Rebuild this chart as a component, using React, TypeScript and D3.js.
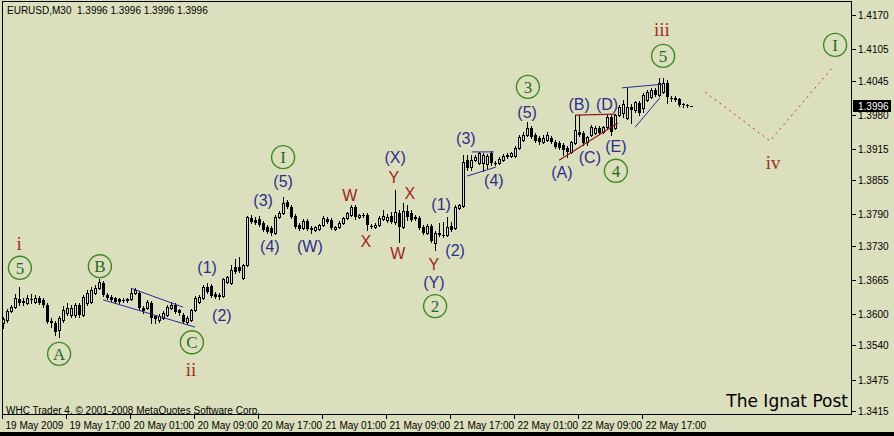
import { scaleLinear, line as d3line } from "d3";

const W = 894;
const H = 436;
const BG = "#dcdfbd";

// EURUSD M30 candles, 19 May 2009 09:00 → 22 May 2009 ~19:00
const open = [
  1.3583, 1.3588, 1.3606, 1.3613, 1.3628, 1.3625, 1.3621, 1.3628, 1.3623, 1.363,
  1.3627, 1.3617, 1.3587, 1.3583, 1.3569, 1.3588, 1.3602, 1.3598, 1.3598, 1.3617,
  1.3598, 1.3621, 1.3623, 1.364, 1.3649, 1.3659, 1.3636, 1.3632, 1.363, 1.3628,
  1.3627, 1.3627, 1.3628, 1.364, 1.364, 1.3611, 1.3611, 1.3621, 1.3596, 1.3588,
  1.3592, 1.3598, 1.3611, 1.3617, 1.3607, 1.3598, 1.3585, 1.3588, 1.3607, 1.3623,
  1.363, 1.3651, 1.3653, 1.3638, 1.3636, 1.3634, 1.3661, 1.3659, 1.3689, 1.3689,
  1.3668, 1.3693, 1.3783, 1.3779, 1.3781, 1.3773, 1.3766, 1.3764, 1.3754, 1.3785,
  1.3792, 1.3813, 1.3804, 1.3787, 1.377, 1.3764, 1.3777, 1.3764, 1.376, 1.3762,
  1.377, 1.3781, 1.3779, 1.3762, 1.3766, 1.3773, 1.3783, 1.3789, 1.3804, 1.3785,
  1.3789, 1.3789, 1.3768, 1.3766, 1.377, 1.3781, 1.3779, 1.3787, 1.3775, 1.3792,
  1.3766, 1.3796, 1.3792, 1.3785, 1.3783, 1.3766, 1.3754, 1.3768, 1.3735, 1.3754,
  1.375, 1.375, 1.3768, 1.3764, 1.3802, 1.3806, 1.3893, 1.388, 1.3893, 1.3888,
  1.3888, 1.3886, 1.3907, 1.3888, 1.3888, 1.3893, 1.3901, 1.3901, 1.3901, 1.3916,
  1.3932, 1.3941, 1.3955, 1.3941, 1.3935, 1.3928, 1.3932, 1.3935, 1.3928, 1.3926,
  1.3922, 1.3916, 1.3909, 1.3926, 1.3947, 1.3945, 1.3928, 1.3941, 1.3945, 1.3955,
  1.3947, 1.3956, 1.3975, 1.3955, 1.3979, 1.3983, 1.3974, 1.3995, 1.3989, 1.4002,
  1.3993, 1.4008, 1.4014, 1.4027, 1.4017, 1.4023, 1.404, 1.4012, 1.4012, 1.401,
  1.4, 1.3998, 1.3996,
];
const high = [
  1.3594, 1.3609, 1.3617, 1.3638, 1.3651, 1.363, 1.3636, 1.3638, 1.3636, 1.3634,
  1.363, 1.3621, 1.3592, 1.3587, 1.3596, 1.3615, 1.3621, 1.3617, 1.3621, 1.3621,
  1.3636, 1.3646, 1.3651, 1.3655, 1.3666, 1.3663, 1.364, 1.3636, 1.3632, 1.363,
  1.363, 1.363, 1.3649, 1.3649, 1.3644, 1.3615, 1.3627, 1.3625, 1.3598, 1.36,
  1.3606, 1.3617, 1.3623, 1.3621, 1.3609, 1.3602, 1.3596, 1.3609, 1.3634, 1.3636,
  1.3655, 1.3659, 1.3657, 1.3642, 1.364, 1.3668, 1.3672, 1.3693, 1.3705, 1.3709,
  1.3696, 1.3787, 1.3789, 1.3785, 1.3787, 1.3777, 1.377, 1.3768, 1.3789, 1.3796,
  1.3823, 1.3817, 1.3808, 1.379, 1.3773, 1.3781, 1.3781, 1.3768, 1.3768, 1.3771,
  1.3787, 1.3785, 1.3783, 1.3768, 1.3777, 1.3785, 1.3794, 1.3808, 1.3808, 1.379,
  1.3792, 1.3792, 1.3771, 1.3773, 1.3787, 1.3798, 1.379, 1.3794, 1.3836, 1.3798,
  1.3811, 1.3808, 1.3798, 1.3789, 1.3787, 1.377, 1.3771, 1.3771, 1.3758, 1.3773,
  1.3775, 1.3785, 1.3775, 1.3808, 1.3809, 1.3903, 1.3903, 1.3903, 1.3903, 1.3909,
  1.3907, 1.3905, 1.3911, 1.3891, 1.3899, 1.3905, 1.3907, 1.3909, 1.392, 1.3941,
  1.3947, 1.3966, 1.3958, 1.3945, 1.3939, 1.3941, 1.3947, 1.3939, 1.3932, 1.393,
  1.3926, 1.392, 1.393, 1.3979, 1.3979, 1.3949, 1.3939, 1.396, 1.3958, 1.3958,
  1.3958, 1.3979, 1.3979, 1.3981, 1.3998, 1.4008, 1.4031, 1.4, 1.4006, 1.4006,
  1.4021, 1.4027, 1.4031, 1.4031, 1.405, 1.405, 1.4046, 1.4016, 1.4016, 1.4012,
  1.4002, 1.4, 1.3996,
];
const low = [
  1.3573, 1.3585, 1.3604, 1.3611, 1.3617, 1.3617, 1.3619, 1.3621, 1.3621, 1.3619,
  1.3613, 1.3583, 1.3575, 1.356, 1.3556, 1.3585, 1.3598, 1.3594, 1.3594, 1.3594,
  1.3596, 1.3617, 1.3621, 1.3638, 1.3647, 1.3634, 1.3628, 1.3625, 1.3621, 1.3621,
  1.3623, 1.3623, 1.3627, 1.3638, 1.3609, 1.3602, 1.3609, 1.3583, 1.3583, 1.3585,
  1.359, 1.3596, 1.3609, 1.3602, 1.3598, 1.3583, 1.3581, 1.3587, 1.3606, 1.3621,
  1.3628, 1.364, 1.3632, 1.363, 1.3628, 1.3632, 1.3659, 1.3657, 1.3678, 1.368,
  1.3666, 1.3691, 1.3773, 1.3771, 1.3768, 1.3758, 1.3754, 1.375, 1.3752, 1.3783,
  1.379, 1.3802, 1.3783, 1.3764, 1.376, 1.3762, 1.376, 1.3754, 1.3758, 1.376,
  1.3768, 1.3773, 1.3762, 1.376, 1.3764, 1.3771, 1.3781, 1.3787, 1.3781, 1.3783,
  1.3785, 1.376, 1.3764, 1.3764, 1.3768, 1.3779, 1.3775, 1.3773, 1.3771, 1.3737,
  1.3764, 1.3779, 1.3777, 1.3779, 1.3762, 1.3752, 1.3752, 1.3737, 1.3722, 1.3749,
  1.3747, 1.3749, 1.3758, 1.3762, 1.38, 1.3804, 1.3874, 1.3874, 1.3891, 1.3886,
  1.3872, 1.3878, 1.3884, 1.3884, 1.3886, 1.3891, 1.3897, 1.3899, 1.3899, 1.3914,
  1.393, 1.3939, 1.3935, 1.3928, 1.3924, 1.3926, 1.393, 1.3926, 1.3916, 1.3914,
  1.3903, 1.3899, 1.3907, 1.3924, 1.3939, 1.3922, 1.3922, 1.3939, 1.3943, 1.3943,
  1.3945, 1.3955, 1.3941, 1.3953, 1.3977, 1.3975, 1.3972, 1.3964, 1.3985, 1.3979,
  1.3985, 1.4006, 1.4012, 1.4016, 1.4016, 1.4021, 1.4002, 1.4006, 1.4006, 1.3996,
  1.3995, 1.3995, 1.3996,
];
const close = [
  1.359, 1.3606, 1.3613, 1.363, 1.3621, 1.3621, 1.363, 1.3628, 1.363, 1.3621,
  1.3617, 1.3585, 1.3583, 1.3565, 1.3592, 1.3607, 1.3611, 1.3611, 1.3617, 1.3598,
  1.3632, 1.364, 1.3646, 1.3649, 1.3661, 1.3636, 1.363, 1.3627, 1.3623, 1.3623,
  1.3627, 1.3628, 1.364, 1.3646, 1.3611, 1.3606, 1.3623, 1.3592, 1.359, 1.3596,
  1.3602, 1.3613, 1.3617, 1.3604, 1.3602, 1.3585, 1.3592, 1.3607, 1.363, 1.3632,
  1.3651, 1.3642, 1.3634, 1.3632, 1.3632, 1.3666, 1.367, 1.3684, 1.368, 1.3682,
  1.3693, 1.3785, 1.3775, 1.3773, 1.377, 1.376, 1.3756, 1.3754, 1.3785, 1.3792,
  1.3811, 1.3804, 1.3785, 1.3766, 1.3762, 1.3777, 1.3762, 1.376, 1.3766, 1.377,
  1.3783, 1.3775, 1.3764, 1.3766, 1.3773, 1.3783, 1.3792, 1.3804, 1.3785, 1.3789,
  1.3787, 1.377, 1.3766, 1.377, 1.3783, 1.3787, 1.3785, 1.3775, 1.3794, 1.3766,
  1.3796, 1.3785, 1.3779, 1.3781, 1.3764, 1.3754, 1.3768, 1.3739, 1.3754, 1.375,
  1.3749, 1.3766, 1.376, 1.3804, 1.3808, 1.389, 1.3878, 1.3893, 1.3899, 1.3907,
  1.3903, 1.3901, 1.3888, 1.3888, 1.3895, 1.3901, 1.3903, 1.3907, 1.3916, 1.3937,
  1.3941, 1.3955, 1.3937, 1.393, 1.3928, 1.3935, 1.3941, 1.3928, 1.3918, 1.3916,
  1.3913, 1.3909, 1.3928, 1.3951, 1.3941, 1.3926, 1.3937, 1.3956, 1.3955, 1.3945,
  1.3956, 1.3975, 1.3947, 1.3979, 1.3995, 1.4, 1.3995, 1.3989, 1.4004, 1.3983,
  1.4017, 1.4023, 1.4027, 1.4017, 1.404, 1.404, 1.4014, 1.401, 1.4008, 1.3998,
  1.3998, 1.3998, 1.3996,
];

const priceTicks = [1.417, 1.4105, 1.4045, 1.398, 1.3915, 1.3855, 1.379, 1.373, 1.3665, 1.36, 1.354, 1.3475, 1.3415];
const timeLabels = [
  "19 May 2009", "19 May 17:00", "20 May 01:00", "20 May 09:00", "20 May 17:00", "21 May 01:00",
  "21 May 09:00", "21 May 17:00", "22 May 01:00", "22 May 09:00", "22 May 17:00",
];
const BARS_PER_LABEL = 16;
const lastPrice = 1.3996;

// wave annotations: [text, bar position, price]
const blueLabels: [string, number, number][] = [
  ["(1)", 50.9, 1.3688], ["(2)", 54.6, 1.3598], ["(3)", 64.9, 1.3817], ["(4)", 66.6, 1.3728],
  ["(5)", 69.9, 1.3853], ["(W)", 76.6, 1.3728], ["(X)", 97.9, 1.3899], ["(1)", 109.4, 1.3808],
  ["(2)", 112.9, 1.3722], ["(Y)", 107.6, 1.3661], ["(3)", 115.6, 1.3934], ["(4)", 122.6, 1.3855],
  ["(5)", 130.9, 1.3985], ["(A)", 139.6, 1.3869], ["(B)", 143.9, 1.4], ["(C)", 146.6, 1.3899],
  ["(D)", 150.9, 1.4], ["(E)", 153.1, 1.392],
];
const redLabels: [string, number, number][] = [
  ["W", 86.6, 1.3827], ["X", 90.6, 1.3739], ["Y", 97.6, 1.3861], ["X", 101.6, 1.3829],
  ["W", 98.6, 1.3716], ["Y", 107.6, 1.3695],
];
const romanLabels: [string, number, number][] = [
  ["i", 3.9, 1.3735], ["ii", 46.9, 1.3495], ["iii", 164.6, 1.4143], ["iv", 192.4, 1.389],
];
const circleLabels: [string, number, number][] = [
  ["5", 4.1, 1.3688], ["A", 13.9, 1.3524], ["B", 24.1, 1.3691], ["C", 47.1, 1.3546],
  ["I", 69.9, 1.3899], ["2", 107.9, 1.3615], ["3", 131.1, 1.4033], ["4", 153.1, 1.3873],
  ["5", 164.9, 1.4092], ["I", 207.9, 1.4113],
];
const blueLines: [number, number][][] = [
  [[24.9, 1.3627], [47.9, 1.3575]],
  [[31.9, 1.3649], [44.9, 1.3613]],
  [[117.1, 1.3909], [122.6, 1.3909]],
  [[115.9, 1.3863], [123.1, 1.388]],
  [[154.6, 1.4031], [164.9, 1.4038]],
  [[157.9, 1.3956], [164.1, 1.4012]],
];
const redLines: [number, number][][] = [
  [[142.9, 1.3979], [152.9, 1.3981]],
  [[138.9, 1.3893], [153.6, 1.3964]],
];
const projection: [number, number][] = [[175.4, 1.4023], [191.6, 1.393], [207.4, 1.4071]];

const FONT = "'Liberation Sans', Arial, sans-serif";
const SERIF = "'Liberation Serif', 'Times New Roman', serif";

export default function App() {
  const x = scaleLinear().domain([0, 212]).range([3.5, 851.5]);
  const y = scaleLinear().domain([1.3415, 1.417]).range([411, 15]);
  const px = (i: number) => Math.round(x(i) - 0.5) + 0.5;
  const py = (p: number) => Math.round(y(p));
  const seg = d3line<[number, number]>().x((d) => x(d[0])).y((d) => y(d[1]));

  const plot = { left: 2, top: 1, right: 852, bottom: 415 };

  return (
    <svg
      width={W}
      height={H}
      style={{ position: "fixed", left: 0, top: 0, display: "block" }}
      fontFamily={FONT}
    >
      <rect width={W} height={H} fill="#000" />
      <rect width={W} height={432} fill={BG} />
      <defs>
        <clipPath id="plot">
          <rect x={plot.left} y={plot.top} width={plot.right - plot.left} height={plot.bottom - plot.top} />
        </clipPath>
      </defs>

      <g clipPath="url(#plot)">
        {/* candles */}
        <g shapeRendering="crispEdges">
          {close.map((c, i) => {
            const o = open[i];
            const cx = px(i);
            const top = py(Math.max(o, c));
            const bot = py(Math.min(o, c));
            return (
              <g key={i}>
                <line x1={cx} x2={cx} y1={py(high[i])} y2={py(low[i]) + 1} stroke="#000" />
                {c > o ? (
                  <rect x={cx - 1} y={top + 0.5} width={2} height={Math.max(bot - top, 1)} fill={BG} stroke="#000" />
                ) : (
                  <rect x={cx - 1.5} y={top} width={3} height={Math.max(bot - top, 1)} fill="#000" />
                )}
              </g>
            );
          })}
        </g>

        {/* trend lines */}
        {blueLines.map((l, i) => (
          <path key={"b" + i} d={seg(l) ?? ""} stroke="#2a2a9a" strokeWidth={1} fill="none" />
        ))}
        {redLines.map((l, i) => (
          <path key={"r" + i} d={seg(l) ?? ""} stroke="#8b1a1a" strokeWidth={1.2} fill="none" />
        ))}
        <path d={seg(projection) ?? ""} stroke="#d02a2a" strokeWidth={1} strokeDasharray="2,4" fill="none" />

        {/* wave labels */}
        {blueLabels.map(([t, b, p], i) => (
          <text key={"bl" + i} x={x(b)} y={y(p)} dy="0.35em" textAnchor="middle" fontSize={16} fill="#2d2d8a">
            {t}
          </text>
        ))}
        {redLabels.map(([t, b, p], i) => (
          <text key={"rl" + i} x={x(b)} y={y(p)} dy="0.35em" textAnchor="middle" fontSize={16} fill="#a01e1e">
            {t}
          </text>
        ))}
        {romanLabels.map(([t, b, p], i) => (
          <text key={"ro" + i} x={x(b)} y={y(p)} dy="0.35em" textAnchor="middle" fontSize={19} fontFamily={SERIF} fill="#a0301e">
            {t}
          </text>
        ))}
        {circleLabels.map(([t, b, p], i) => (
          <g key={"c" + i}>
            <circle cx={x(b)} cy={y(p)} r={11.5} fill="none" stroke="#3a8a22" strokeWidth={1.4} />
            <text x={x(b)} y={y(p)} dy="0.35em" textAnchor="middle" fontSize={17} fontFamily={SERIF} fill="#1f6a1f">
              {t}
            </text>
          </g>
        ))}

        <text x={7} y={14} fontSize={10} fill="#000">
          EURUSD,M30{"\u00a0\u00a0"}1.3996 1.3996 1.3996 1.3996
        </text>
        <text x={6} y={414} fontSize={10} fill="#000">
          WHC Trader 4, © 2001-2008 MetaQuotes Software Corp.
        </text>
        <text x={848} y={407} textAnchor="end" fontSize={17} fontFamily="'DejaVu Sans', sans-serif" fill="#000">
          The Ignat Post
        </text>
      </g>

      {/* frame */}
      <rect
        x={plot.left + 0.5}
        y={plot.top + 0.5}
        width={plot.right - plot.left - 1}
        height={plot.bottom - plot.top - 1}
        fill="none"
        stroke="#000"
        shapeRendering="crispEdges"
      />

      {/* price axis */}
      <g shapeRendering="crispEdges">
        {priceTicks.map((p) => (
          <g key={p}>
            <line x1={plot.right} x2={plot.right + 4} y1={py(p) + 0.5} y2={py(p) + 0.5} stroke="#000" />
            <text x={plot.right + 6} y={py(p)} dy="0.35em" fontSize={10} fill="#000" shapeRendering="auto">
              {p.toFixed(4)}
            </text>
          </g>
        ))}
        <rect x={plot.right + 1} y={py(lastPrice) - 6} width={38} height={12} fill="#000" />
        <text x={plot.right + 6} y={py(lastPrice)} dy="0.35em" fontSize={10} fill="#fff" shapeRendering="auto">
          {lastPrice.toFixed(4)}
        </text>
      </g>

      {/* time axis */}
      <g shapeRendering="crispEdges">
        {timeLabels.map((t, k) => {
          const tx = px(k * BARS_PER_LABEL) - 1;
          return (
            <g key={t}>
              <line x1={tx} x2={tx} y1={plot.bottom} y2={plot.bottom + 4} stroke="#000" />
              <text x={tx + 3} y={425} dy="0.35em" fontSize={10} fill="#000" shapeRendering="auto">
                {t}
              </text>
            </g>
          );
        })}
      </g>
    </svg>
  );
}
